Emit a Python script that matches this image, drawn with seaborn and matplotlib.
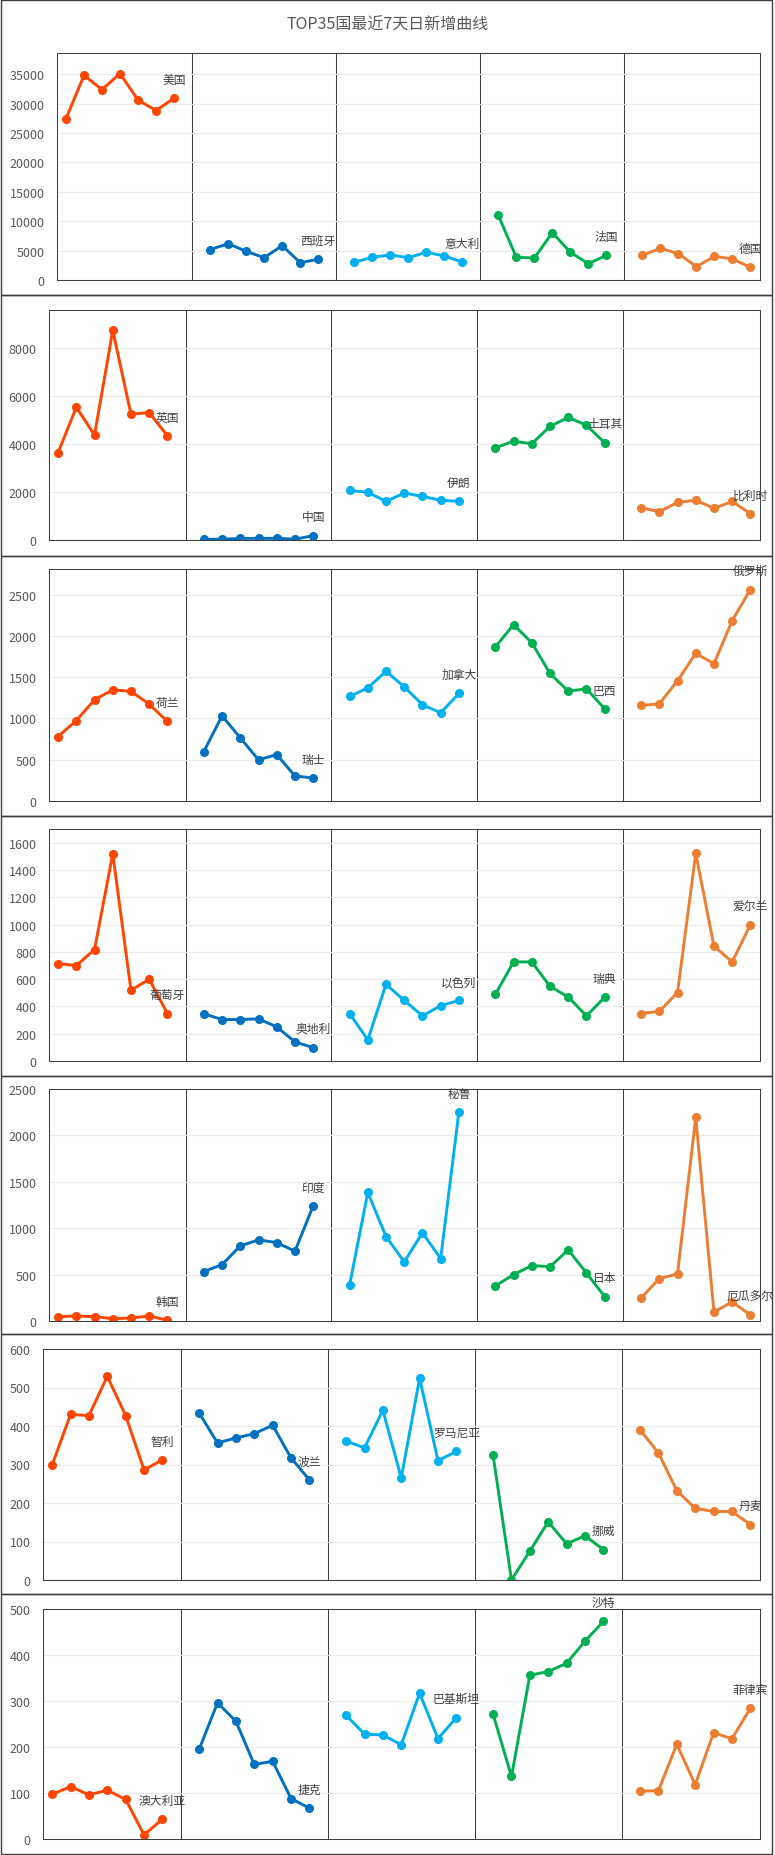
import numpy as np
import pandas as pd
import seaborn as sns
import matplotlib.pyplot as plt
from matplotlib.patches import Rectangle

title = 'TOP35国最近7天日新增曲线'

# one row = 5 countries x 7 days
names_1 = ['美国', '西班牙', '意大利', '法国', '德国']
vals_1 = [[27450, 34780, 32390, 35110, 30580, 28820, 30920],
          [5160, 6180, 4880, 3800, 5840, 2950, 3520],
          [3010, 3860, 4250, 3800, 4710, 4090, 3060],
          [11000, 3860, 3740, 8060, 4710, 2780, 4200],
          [4200, 5390, 4480, 2270, 4030, 3570, 2160]]

names_2 = ['英国', '中国', '伊朗', '土耳其', '比利时']
vals_2 = [[3650, 5540, 4380, 8750, 5250, 5320, 4350],
          [30, 30, 65, 68, 70, 35, 180],
          [2070, 1990, 1610, 1960, 1820, 1660, 1610],
          [3850, 4120, 4020, 4740, 5120, 4790, 4060],
          [1350, 1180, 1570, 1660, 1320, 1610, 1100]]

names_3 = ['荷兰', '瑞士', '加拿大', '巴西', '俄罗斯']
vals_3 = [[780, 975, 1226, 1347, 1327, 1173, 963],
          [599, 1032, 765, 498, 562, 303, 279],
          [1266, 1371, 1570, 1383, 1165, 1068, 1303],
          [1865, 2136, 1917, 1545, 1331, 1359, 1117],
          [1157, 1177, 1456, 1788, 1663, 2184, 2561]]

names_4 = ['葡萄牙', '奥地利', '以色列', '瑞典', '爱尔兰']
vals_4 = [[714, 699, 817, 1519, 518, 599, 348],
          [346, 304, 304, 309, 250, 140, 98],
          [348, 155, 562, 444, 331, 405, 444],
          [488, 726, 726, 547, 469, 331, 466],
          [348, 363, 501, 1521, 842, 726, 999]]

names_5 = ['韩国', '印度', '秘鲁', '日本', '厄瓜多尔']
vals_5 = [[47, 54, 47, 25, 32, 54, 8],
          [532, 608, 809, 874, 845, 752, 1241],
          [388, 1385, 910, 637, 950, 673, 2255],
          [378, 500, 597, 586, 766, 518, 263],
          [248, 457, 507, 2194, 97, 205, 65]]

names_6 = ['智利', '波兰', '罗马尼亚', '挪威', '丹麦']
vals_6 = [[299, 430, 427, 529, 427, 286, 312],
          [434, 356, 369, 380, 402, 317, 260],
          [361, 343, 441, 265, 524, 310, 334],
          [324, 0, 75, 151, 94, 115, 79],
          [390, 330, 232, 186, 178, 178, 144]]

names_7 = ['澳大利亚', '捷克', '巴基斯坦', '沙特', '菲律宾']
vals_7 = [[97, 114, 96, 106, 86, 9, 43],
          [195, 296, 256, 162, 169, 88, 67],
          [269, 228, 226, 205, 317, 218, 264],
          [271, 136, 356, 364, 382, 430, 473],
          [104, 105, 206, 118, 231, 218, 284]]

rows = [(names_1, vals_1), (names_2, vals_2), (names_3, vals_3), (names_4, vals_4),
        (names_5, vals_5), (names_6, vals_6), (names_7, vals_7)]
y_max = [38600, 9600, 2810, 1700, 2500, 600, 500]
y_step = [5000, 2000, 500, 200, 500, 100, 100]

colors = ['#FF4500', '#0070C0', '#00B0F0', '#00B050', '#ED7D31']

sns.set_style('white')
plt.rcParams['font.family'] = ['Noto Sans CJK SC', 'DejaVu Sans']

W, H = 775, 1856
fig = plt.figure(figsize=(W / 100, H / 100), dpi=100)

# layout in pixels: row box (top, bottom), plot area (left, top, bottom)
boxes = [(1, 296), (296, 557), (557, 817), (817, 1077), (1077, 1335), (1335, 1595), (1595, 1855)]
plots = [(57, 54, 281), (49, 311, 541), (49, 570, 802), (49, 830, 1062),
         (49, 1090, 1322), (43, 1350, 1581), (43, 1610, 1840)]
right = 759.5

for (t, b) in boxes:
    fig.add_artist(Rectangle((1 / W, 1 - b / H), 771 / W, (b - t) / H, transform=fig.transFigure,
                             fill=False, ec='#404040', lw=1))

fig.text(388 / W, 1 - 25 / H, title, ha='center', va='center', fontsize=11.5, color='#595959')

for r, (names, vals) in enumerate(rows):
    left, top, bottom = plots[r]
    ax = fig.add_axes([left / W, 1 - bottom / H, (right - left) / W, (bottom - top) / H])
    recs = []
    for k, name in enumerate(names):
        for i, v in enumerate(vals[k]):
            recs.append((8 * k + i, v, name))
    df = pd.DataFrame(recs, columns=['x', 'y', 'country'])
    sns.lineplot(data=df, x='x', y='y', hue='country', palette=dict(zip(names, colors)),
                 marker='o', markersize=6.5, markeredgewidth=0, linewidth=2.1,
                 legend=False, ax=ax)

    for k, name in enumerate(names):
        ax.annotate(name, (8 * k + 6, vals[k][-1]), xytext=(0, 13.5), textcoords='offset points',
                    ha='center', va='center', fontsize=8.5, color='#404040', annotation_clip=False)

    for k in range(1, 5):
        ax.axvline(8 * k - 1, color='#404040', lw=0.75, zorder=0.5)

    ax.set_xlim(-0.5, 38.5)
    ax.set_ylim(0, y_max[r])
    ax.set_yticks(np.arange(0, y_max[r] + 1, y_step[r]))
    ax.set_xticks([])
    ax.set_xlabel('')
    ax.set_ylabel('')
    ax.yaxis.grid(True, color='#ebebeb', lw=0.8)
    ax.set_axisbelow(True)
    ax.tick_params(axis='y', length=0, pad=9, labelsize=9, labelcolor='#595959')
    for s in ax.spines.values():
        s.set_color('#404040')
        s.set_linewidth(0.75)

fig.savefig('out.png', dpi=100, facecolor='white')
